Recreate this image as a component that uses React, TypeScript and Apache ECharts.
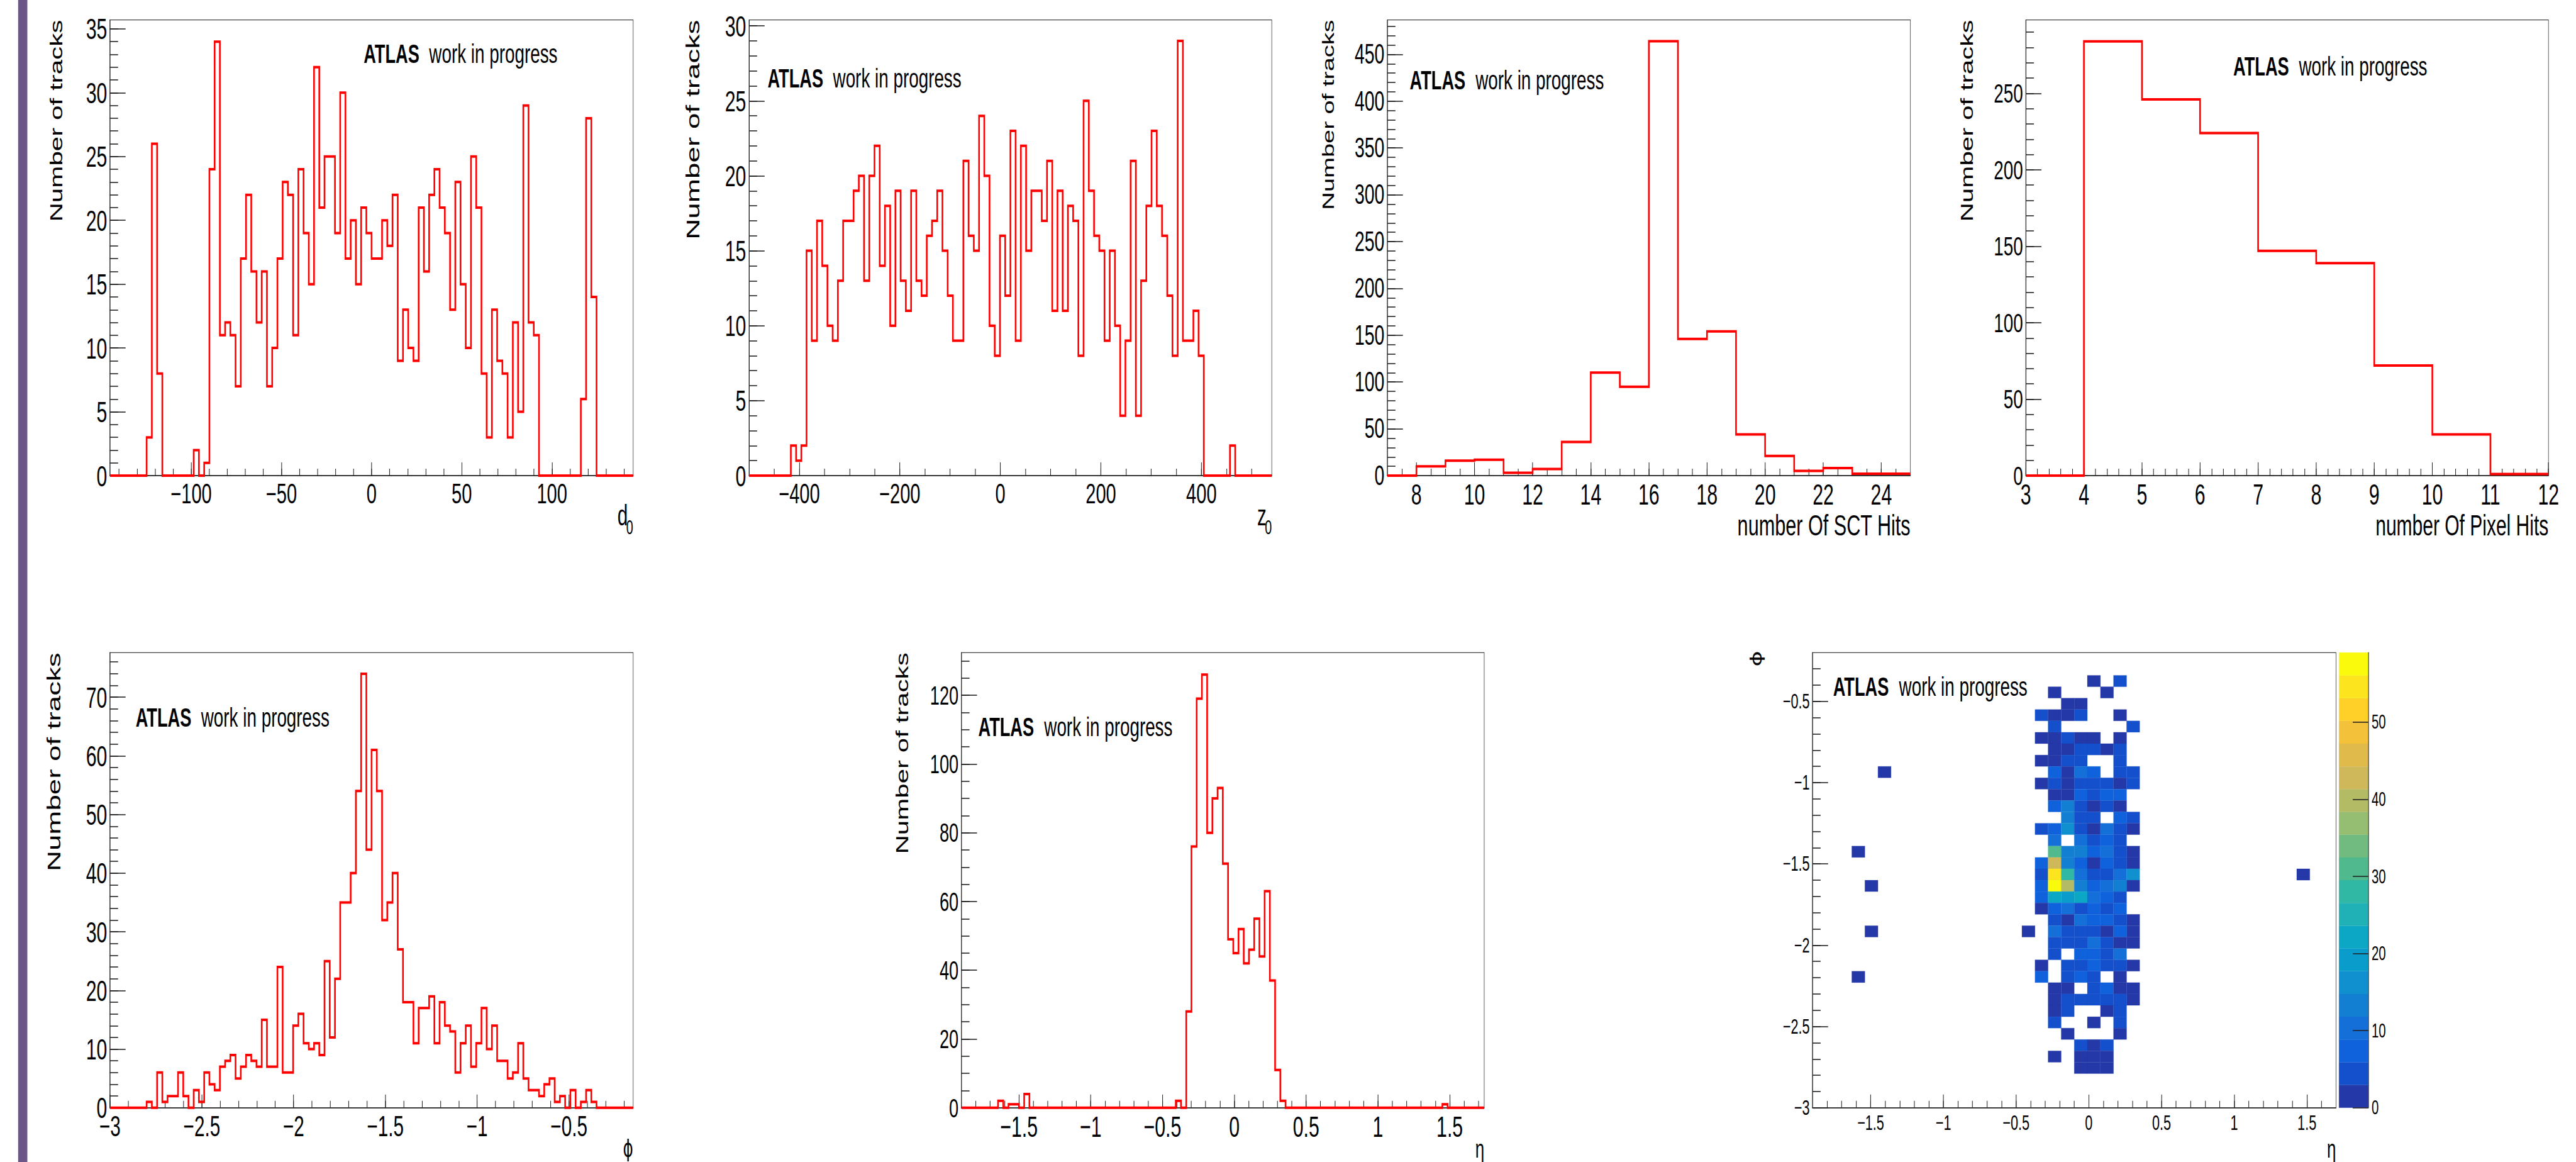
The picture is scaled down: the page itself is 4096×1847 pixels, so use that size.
import React, { useEffect, useRef } from "react";
import * as echarts from "echarts";

// ---------- data ----------
const d0Values = [0,0,0,0,0,0,0,3,26,8,0,0,0,0,0,0,2,0,1,24,34,11,12,11,7,17,22,16,12,16,7,10,17,23,22,11,24,19,15,32,21,25,25,19,30,17,20,15,21,19,17,17,20,18,22,9,13,10,9,21,16,22,24,21,19,13,23,15,10,25,21,8,3,13,9,8,3,12,5,29,12,11,0,0,0,0,0,0,0,0,6,28,14,0,0,0,0,0,0,0];
const z0Values = [0,0,0,0,0,0,0,0,2,1,2,15,9,17,14,10,9,13,17,17,19,20,13,20,22,14,18,10,19,13,11,19,13,12,16,17,19,15,12,9,9,21,16,15,24,20,10,8,16,12,23,9,22,15,19,19,17,21,11,19,11,18,17,8,25,19,16,15,9,15,10,4,9,21,4,13,18,23,18,16,12,8,29,9,9,11,8,0,0,0,0,0,2,0,0,0,0,0,0,0];
const sctValues = [0,10,16,17,3,7,36,110,95,464,146,154,44,21,5,8,2,2];
const pixelValues = [0,284,246,224,147,139,72,27,1];
const phiValues = [0,0,0,0,0,0,0,1,0,6,1,2,2,6,2,0,3,1,6,4,3,7,8,9,5,7,9,8,7,15,7,7,24,6,6,14,16,11,10,11,9,25,12,22,35,35,40,54,74,44,61,54,32,35,40,27,18,18,11,17,17,19,11,18,14,13,6,11,14,7,11,17,10,14,8,8,5,6,11,5,3,3,2,4,5,1,2,0,3,0,1,3,1,0,0,0,0,0,0,0];
const etaValues = [0,0,0,0,0,0,0,2,0,1,1,0,4,0,0,0,0,0,0,0,0,0,0,0,0,0,0,0,0,0,0,0,0,0,0,0,0,0,0,0,0,2,0,28,76,119,126,80,90,93,71,49,45,52,42,46,55,44,63,37,11,2,0,0,0,0,0,0,0,0,0,0,0,0,0,0,0,0,0,0,0,0,0,0,0,0,0,0,0,0,0,0,1,0,0,0,0,0,0,0];

// 2D map: [row, col, value], rows counted from the bottom, cols from the left (0.09 x 0.07 cells)
const mapCells = [
  [37,21,1],[37,23,4],
  [36,18,1],[36,22,1],
  [35,19,1],[35,20,1],
  [34,17,4],[34,18,1],[34,19,1],[34,20,4],[34,23,1],
  [33,18,4],[33,24,4],
  [32,17,1],[32,18,1],[32,19,4],[32,20,1],[32,21,1],[32,23,1],
  [31,18,1],[31,19,1],[31,20,4],[31,21,4],[31,22,1],[31,23,4],
  [30,17,1],[30,18,1],[30,19,4],[30,20,4],[30,23,4],
  [29,5,1],[29,18,7],[29,19,1],[29,20,10],[29,21,7],[29,23,4],[29,24,4],
  [28,17,1],[28,18,4],[28,19,1],[28,20,4],[28,21,4],[28,22,4],[28,23,1],[28,24,4],
  [27,18,1],[27,19,1],[27,20,7],[27,21,4],[27,22,7],[27,23,7],
  [26,18,7],[26,19,13],[26,20,4],[26,21,1],[26,22,4],[26,23,1],
  [25,19,13],[25,20,4],[25,21,4],[25,23,7],[25,24,4],
  [24,17,4],[24,18,7],[24,19,16],[24,20,4],[24,21,1],[24,22,10],[24,23,4],[24,24,1],
  [23,18,10],[23,20,10],[23,21,4],[23,22,7],[23,23,4],
  [22,3,1],[22,18,31],[22,19,13],[22,20,13],[22,21,7],[22,22,10],[22,23,4],[22,24,1],
  [21,17,7],[21,18,43],[21,19,13],[21,20,7],[21,21,1],[21,22,7],[21,23,4],[21,24,1],
  [20,17,4],[20,18,55],[20,19,28],[20,20,10],[20,21,4],[20,22,4],[20,23,10],[20,24,16],[20,37,1],
  [19,4,1],[19,17,7],[19,18,58],[19,19,40],[19,20,13],[19,21,7],[19,22,10],[19,23,13],[19,24,1],
  [18,17,7],[18,18,22],[18,19,19],[18,20,22],[18,21,10],[18,22,7],[18,23,4],
  [17,17,1],[17,18,7],[17,19,10],[17,20,4],[17,21,7],[17,22,4],[17,23,7],
  [16,18,4],[16,19,1],[16,20,10],[16,21,7],[16,22,7],[16,23,4],[16,24,1],
  [15,4,1],[15,16,1],[15,18,10],[15,19,4],[15,20,4],[15,21,4],[15,22,1],[15,23,7],[15,24,1],
  [14,18,4],[14,19,4],[14,20,4],[14,21,10],[14,22,4],[14,23,1],[14,24,1],
  [13,18,4],[13,20,7],[13,21,7],[13,22,4],[13,23,10],
  [12,17,1],[12,19,4],[12,20,4],[12,21,7],[12,22,4],[12,23,4],[12,24,1],
  [11,3,1],[11,17,7],[11,19,4],[11,20,7],[11,21,4],[11,23,1],
  [10,18,1],[10,19,1],[10,21,4],[10,22,7],[10,23,1],[10,24,1],
  [9,18,1],[9,19,4],[9,20,4],[9,21,4],[9,22,4],[9,23,4],[9,24,1],
  [8,18,1],[8,19,4],[8,22,1],[8,23,4],
  [7,18,4],[7,21,1],[7,23,4],
  [6,19,1],[6,23,1],
  [5,20,4],[5,21,1],[5,22,4],
  [4,18,1],[4,20,1],[4,21,1],[4,22,1],
  [3,20,1],[3,21,1],[3,22,1],
];
const paletteColors = ["#2438a8","#1450cc","#0f62dc","#1470d8","#137fd2","#1090cf","#0a9ccb","#0ca7c4","#1fb1b5","#30b8a5","#50ba8e","#72bb80","#95be72","#b3bb65","#cfb85a","#e0ba4b","#f4c13b","#fed028","#fce51e","#f9fa0c"];
const paletteMax = 59;
const paletteTicks = [0, 10, 20, 30, 40, 50];

const yTitle = "Number of tracks";
const atlasWord = "ATLAS";
const progressWords = "work in progress";

// ---------- scaling: the reference is squeezed horizontally, so the whole chart is too ----------
const S = 4096 / 4304;
const SX = 0.65;
const LOGICAL_W = 4096 / SX;
const X = (v: number) => (v * S) / SX;
const Y = (v: number) => v * S;
const SANS = '"Liberation Sans", Arial, sans-serif';
const AXIS_COLOR = "#222";

const range = (a: number, b: number, step: number) => {
  const out: number[] = [];
  const n = Math.round((b - a) / step);
  for (let i = 0; i <= n; i++) out.push(+(a + i * step).toFixed(6));
  return out;
};
const fmt = (v: number) => String(v).replace("-", "\u2212");

type Box = { l: number; r: number; t: number; b: number };
type AxisSpec = { min: number; max: number; major: number[]; minor: number[]; size: number };

const TOP_BOX = { t: 33.3, b: 794.4 };
const BOT_BOX = { t: 1090, b: 1850.2 };

function makeAxes(idx: number, dim: "x" | "y", a: AxisSpec, margin: number) {
  const isX = dim === "x";
  const majorLen = isX ? Y(22) : X(26);
  const minorLen = isX ? Y(11.5) : X(13.5);
  const base = {
    gridIndex: idx,
    type: "value",
    min: a.min,
    max: a.max,
    position: isX ? "bottom" : "left",
    splitLine: { show: false },
    minorTick: { show: false },
    scale: true,
    axisPointer: { show: false },
  };
  return [
    {
      ...base,
      axisLine: { show: true, onZero: false, lineStyle: { color: AXIS_COLOR, width: 1.6 } },
      axisTick: { show: true, inside: true, length: majorLen, customValues: a.major, lineStyle: { color: AXIS_COLOR, width: 1.6 } },
      axisLabel: {
        show: true, customValues: a.major, margin, color: "#000", fontFamily: SANS, fontSize: a.size * S,
        formatter: (v: number) => fmt(v), hideOverlap: false, showMinLabel: true, showMaxLabel: true,
      },
    },
    {
      ...base,
      axisLine: { show: false, onZero: false },
      axisTick: { show: true, inside: true, length: minorLen, customValues: a.minor, lineStyle: { color: AXIS_COLOR, width: 1.6 } },
      axisLabel: { show: false },
    },
  ];
}

function atlasLabel(x1: number, x2: number, y: number) {
  return [
    { type: "text", x: X(x1), y: Y(y), style: { text: atlasWord, fontFamily: SANS, fontWeight: "bold", fontSize: 44 * S, fill: "#000", textAlign: "left", textVerticalAlign: "middle" } },
    { type: "text", x: X(x2), y: Y(y), style: { text: progressWords, fontFamily: SANS, fontSize: 45 * S, fill: "#000", textAlign: "left", textVerticalAlign: "middle" } },
  ];
}
function rotatedTitle(cx: number, top: number, size: number) {
  return { type: "text", x: X(cx), y: Y(top), rotation: Math.PI / 2, style: { text: yTitle, fontFamily: SANS, fontSize: size * S, fill: "#000", textAlign: "right", textVerticalAlign: "middle" } };
}
function plainText(text: string, right: number, cy: number, size: number, family = SANS) {
  return { type: "text", x: X(right), y: Y(cy), style: { text: text, fontFamily: family, fontSize: size * S, fill: "#000", textAlign: "right", textVerticalAlign: "middle" } };
}

type Hist = { values: number[]; box: Box; x: AxisSpec; y: AxisSpec; xw: number };

const hists: Hist[] = [
  { values: d0Values, box: { l: 183.8, r: 1057.9, ...TOP_BOX }, xw: 2.9,
    x: { min: -145, max: 145, major: range(-100, 100, 50), minor: range(-140, 140, 10), size: 47 },
    y: { min: 0, max: 35.7, major: range(0, 35, 5), minor: range(0, 35, 1), size: 49 } },
  { values: z0Values, box: { l: 1251.5, r: 2124.9, ...TOP_BOX }, xw: 10.4,
    x: { min: -500, max: 540, major: range(-400, 400, 200), minor: range(-450, 500, 50), size: 47 },
    y: { min: 0, max: 30.4, major: range(0, 30, 5), minor: range(0, 30, 1), size: 49 } },
  { values: sctValues, box: { l: 2318, r: 3191.9, ...TOP_BOX }, xw: 1,
    x: { min: 7, max: 25, major: range(8, 24, 2), minor: range(7.5, 24.5, 0.5), size: 49 },
    y: { min: 0, max: 486.8, major: range(0, 450, 50), minor: range(0, 480, 10), size: 46 } },
  { values: pixelValues, box: { l: 3384.8, r: 4258, ...TOP_BOX }, xw: 1,
    x: { min: 3, max: 12, major: range(3, 12, 1), minor: range(3, 12, 0.2), size: 49 },
    y: { min: 0, max: 298, major: range(0, 250, 50), minor: range(0, 290, 10), size: 45 } },
  { values: phiValues, box: { l: 183.8, r: 1057.9, ...BOT_BOX }, xw: 0.0285,
    x: { min: -3, max: -0.15, major: range(-3, -0.5, 0.5), minor: range(-3, -0.2, 0.1), size: 48 },
    y: { min: 0, max: 77.6, major: range(0, 70, 10), minor: range(0, 76, 2), size: 49 } },
  { values: etaValues, box: { l: 1606.4, r: 2479.8, ...BOT_BOX }, xw: 0.0364,
    x: { min: -1.9, max: 1.74, major: range(-1.5, 1.5, 0.5), minor: range(-1.8, 1.7, 0.1), size: 49 },
    y: { min: 0, max: 132.4, major: range(0, 120, 20), minor: range(0, 130, 5), size: 44 } },
];

const mapBox: Box = { l: 3028.4, r: 3903, ...BOT_BOX };
const mapX: AxisSpec = { min: -1.9, max: 1.7, major: range(-1.5, 1.5, 0.5), minor: range(-1.8, 1.6, 0.1), size: 35 };
const mapY: AxisSpec = { min: -3, max: -0.2, major: range(-3, -0.5, 0.5), minor: range(-3, -0.3, 0.1), size: 35 };
const barBox: Box = { l: 3908, r: 3957, ...BOT_BOX };

const gridOf = (b: Box) => ({
  left: X(b.l), width: X(b.r - b.l), top: Y(b.t), height: Y(b.b - b.t),
  show: true, borderColor: "#444", borderWidth: 1.3, backgroundColor: "transparent", containLabel: false,
});

function buildOption() {
  const grids: any[] = [];
  const xAxes: any[] = [];
  const yAxes: any[] = [];
  const series: any[] = [];
  const xMargin = 6;
  const yMargin = 7;

  hists.forEach((h, g) => {
    grids.push(gridOf(h.box));
    const [xa, xb] = makeAxes(g, "x", h.x, xMargin);
    const [ya, yb] = makeAxes(g, "y", h.y, yMargin);
    const xi = xAxes.length;
    const yi = yAxes.length;
    xAxes.push(xa, xb);
    yAxes.push(ya, yb);
    const pts = h.values.map((v, i) => [h.x.min + i * h.xw, v]);
    pts.push([h.x.min + h.values.length * h.xw, h.values[h.values.length - 1]]);
    series.push({
      type: "line", step: "end", xAxisIndex: xi, yAxisIndex: yi, data: pts, showSymbol: false, symbol: "none",
      clip: false, lineStyle: { color: "#ff0000", width: 4, join: "miter" }, z: 5, silent: true,
    });
  });

  // 2D map
  const mg = grids.length;
  grids.push(gridOf(mapBox));
  const [mxa, mxb] = makeAxes(mg, "x", mapX, 7);
  const [mya, myb] = makeAxes(mg, "y", mapY, 7);
  const mxi = xAxes.length;
  const myi = yAxes.length;
  xAxes.push(mxa, mxb);
  yAxes.push(mya, myb);
  const cellW = (mapX.max - mapX.min) / 40;
  const cellH = (mapY.max - mapY.min) / 40;
  const colorOf = (v: number) => paletteColors[Math.min(paletteColors.length - 1, Math.floor((v / paletteMax) * paletteColors.length))];
  series.push({
    type: "custom", xAxisIndex: mxi, yAxisIndex: myi, clip: false, silent: true, z: 3,
    encode: { x: 0, y: 1 },
    data: mapCells.map(([row, col, val]) => [mapX.min + col * cellW, mapY.min + row * cellH, val]),
    renderItem: (_: any, api: any) => {
      const a = api.coord([api.value(0), api.value(1) + cellH]);
      const b = api.coord([api.value(0) + cellW, api.value(1)]);
      const fill = colorOf(api.value(2));
      return { type: "rect", shape: { x: a[0], y: a[1], width: b[0] - a[0], height: b[1] - a[1] }, style: { fill, stroke: fill, lineWidth: 0.3 } };
    },
  });

  // colour bar
  const bg = grids.length;
  grids.push({ ...gridOf(barBox), show: false });
  const bxi = xAxes.length;
  const byi = yAxes.length;
  xAxes.push({
    gridIndex: bg, type: "value", min: 0, max: 1, show: false, position: "bottom",
    axisLine: { onZero: false }, splitLine: { show: false },
  });
  yAxes.push({
    gridIndex: bg, type: "value", min: 0, max: paletteMax, position: "right", z: 10, scale: true,
    splitLine: { show: false }, minorTick: { show: false },
    axisLine: { show: true, onZero: false, lineStyle: { color: AXIS_COLOR, width: 1.6 } },
    axisTick: { show: true, inside: true, length: X(26), customValues: paletteTicks, lineStyle: { color: AXIS_COLOR, width: 1.6 } },
    axisLabel: { show: true, customValues: paletteTicks, margin: 8, color: "#000", fontFamily: SANS, fontSize: 33 * S, hideOverlap: false },
  });
  const bandH = paletteMax / paletteColors.length;
  series.push({
    type: "custom", xAxisIndex: bxi, yAxisIndex: byi, clip: false, silent: true, z: 2,
    encode: { x: 0, y: 1 },
    data: paletteColors.map((_, i) => [0, i * bandH, i]),
    renderItem: (_: any, api: any) => {
      const a = api.coord([0, api.value(1) + bandH]);
      const b = api.coord([1, api.value(1)]);
      const fill = paletteColors[api.value(2)];
      return { type: "rect", shape: { x: a[0], y: a[1], width: b[0] - a[0], height: b[1] - a[1] }, style: { fill, stroke: fill, lineWidth: 0.3 } };
    },
  });

  const graphics: any[] = [
    { type: "rect", shape: { x: X(30.3), y: 0, width: X(15.4), height: 1847 }, style: { fill: "#6b5787" } },
    ...atlasLabel(607.5, 717, 90),
    ...atlasLabel(1282.4, 1391.8, 131),
    ...atlasLabel(2355.4, 2465.3, 133.7),
    ...atlasLabel(3731.4, 3841, 110.8),
    ...atlasLabel(226.6, 336, 1198),
    ...atlasLabel(1634.5, 1744.6, 1214),
    ...atlasLabel(3062.7, 3172.9, 1147),
    rotatedTitle(94.7, 33.3, 44.3),
    rotatedTitle(1158, 33.3, 48.2),
    rotatedTitle(2219, 33.3, 41.7),
    rotatedTitle(3287, 33.3, 44.3),
    rotatedTitle(90, 1090, 48),
    rotatedTitle(1508, 1090, 44.2),
    // x-axis titles
    plainText("d", 1049, 861, 48),
    plainText("0", 1058, 881, 32),
    plainText("z", 2116, 861, 48),
    plainText("0", 2125, 881, 32),
    plainText("number Of SCT Hits", 3191.9, 877, 49.5),
    plainText("number Of Pixel Hits", 4258, 877, 48.5),
    plainText("\u03d5", 1058, 1918, 40, '"DejaVu Sans", sans-serif'),
    plainText("\u03b7", 2480, 1918, 42),
    plainText("\u03b7", 3903, 1918, 42),
    { type: "text", x: X(2934), y: Y(1100), rotation: Math.PI / 2, style: { text: "\u03d5", fontFamily: '"DejaVu Sans", sans-serif', fontSize: 40 * S, fill: "#000", textAlign: "center", textVerticalAlign: "middle" } },
  ];

  return {
    animation: false,
    backgroundColor: "#fff",
    tooltip: { show: false },
    legend: { show: false },
    grid: grids,
    xAxis: xAxes,
    yAxis: yAxes,
    series,
    graphic: { elements: graphics },
  };
}

export default function App() {
  const ref = useRef<HTMLDivElement>(null);
  useEffect(() => {
    document.body.style.margin = "0";
    document.body.style.overflow = "hidden";
    const chart = echarts.init(ref.current!, undefined, { renderer: "svg" });
    chart.setOption(buildOption() as any);
    return () => chart.dispose();
  }, []);
  return (
    <div style={{ position: "fixed", left: 0, top: 0, width: 4096, height: 1847, overflow: "hidden", background: "#fff" }}>
      <div
        ref={ref}
        style={{ width: LOGICAL_W, height: 1847, transform: `scaleX(${SX})`, transformOrigin: "0 0" }}
      />
    </div>
  );
}
